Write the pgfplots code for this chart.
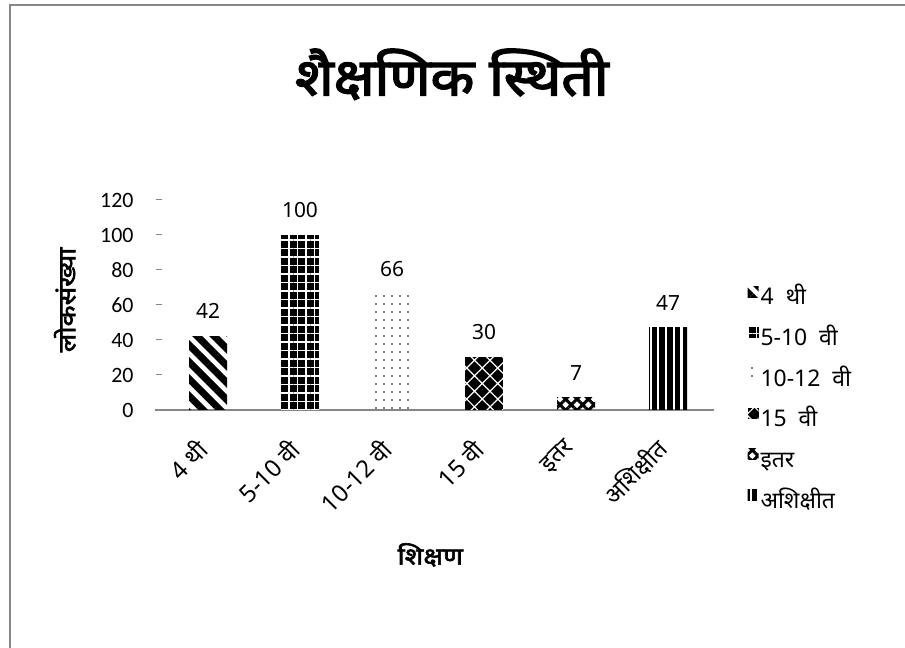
\documentclass[border=0pt]{standalone}
\usepackage{fontspec}
\setmainfont{Noto Sans}[Script=Devanagari]
\newfontfamily\carlito{Carlito}
\newfontfamily\boldwide{Noto Sans}[Script=Devanagari, FakeBold=2.5, FakeStretch=1.15]
\newfontfamily\titlefont{Noto Sans}[Script=Devanagari, FakeBold=3, FakeStretch=1.1]
\usepackage{pgfplots}
\pgfplotsset{compat=1.18}
\usetikzlibrary{patterns.meta}
\definecolor{axgray}{RGB}{134,134,134}
\begin{document}
\begin{tikzpicture}[x=1bp,y=1bp]
\useasboundingbox (0,0) rectangle (905,648);
\draw[axgray, line width=1.5bp] (10,0) -- (10,643) -- (905,643);
\begin{axis}[
  at={(162bp,238bp)}, anchor=south west,
  scale only axis, width=552bp, height=210bp,
  xmin=-0.5, xmax=5.5, ymin=0, ymax=120,
  ytick={0,20,...,120},
  xtick={0,...,5},
  xticklabels={4 थी, 5-10 वी, 10-12 वी, 15 वी, इतर, अशिक्षीत},
  ybar, bar width=38bp, bar shift=0pt,
  axis x line=bottom, axis y line=left,
  x axis line style={-, axgray, line width=1.5bp, shorten <=-7bp},
  y axis line style={draw=none},
  tick align=outside, major tick length=6bp,
  ytick style={axgray, line width=1bp},
  xtick style={draw=none},
  /pgf/number format/assume math mode=true,
  yticklabel style={font=\carlito\fontsize{22}{26}\selectfont, xshift=-19bp},
  xticklabel style={font=\fontsize{24}{28}\selectfont, xshift=-3bp, yshift=-26bp, rotate=45, anchor=east},
  nodes near coords,
  every node near coord/.append style={font=\fontsize{21}{25}\selectfont, text=black, yshift=14bp},
  title={शैक्षणिक स्थिती},
  title style={at={(axis description cs:0.525,1.57)}, anchor=center, font=\titlefont\fontsize{52}{58}\selectfont},
  xlabel={शिक्षण},
  xlabel style={at={(axis description cs:0.486,-0.69)}, anchor=center, font=\boldwide\fontsize{24}{28}\selectfont},
  ylabel={लोकसंख्या},
  ylabel style={at={(axis description cs:-0.176,0.524)}, anchor=center, font=\boldwide\fontsize{24}{28}\selectfont},
  legend cell align=left,
  legend style={at={(1.055,0.6)}, anchor=north west, draw=none, fill=none,
    font=\fontsize{23}{27}\selectfont, row sep=17.2bp,
    nodes={text height=14bp, text depth=5bp, inner ysep=0bp, inner xsep=2bp}},
  legend image code/.code={\path[#1,draw=none] (0bp,3bp) rectangle (11bp,14bp);},
]
\addplot[draw=none, pattern={Lines[angle=-45,distance=12bp,line width=7bp]}] coordinates {(0,42)};
\addlegendentry{4\ \ थी}
\addplot[draw=none, fill=black, postaction={pattern={Hatch[distance=8.5bp,line width=1.5bp]}, pattern color=white}] coordinates {(1,100)};
\addlegendentry{5-10\ \ वी}
\addplot[draw=none, pattern={Dots[distance=8bp,radius=0.9bp]}] coordinates {(2,66)};
\addlegendentry{10-12\ \ वी}
\addplot[draw=none, fill=black, postaction={pattern={Hatch[angle=45,distance=11bp,line width=1.2bp]}, pattern color=white}] coordinates {(3,30)};
\addlegendentry{15\ \ वी}
\addplot[draw=none, pattern={Hatch[angle=45,distance=8bp,line width=3bp]}] coordinates {(4,7)};
\addlegendentry{इतर}
\addplot[draw=none, pattern={Lines[angle=90,distance=7.7bp,line width=5.5bp]}] coordinates {(5,47)};
\addlegendentry{अशिक्षीत}
\end{axis}
\end{tikzpicture}
\end{document}
